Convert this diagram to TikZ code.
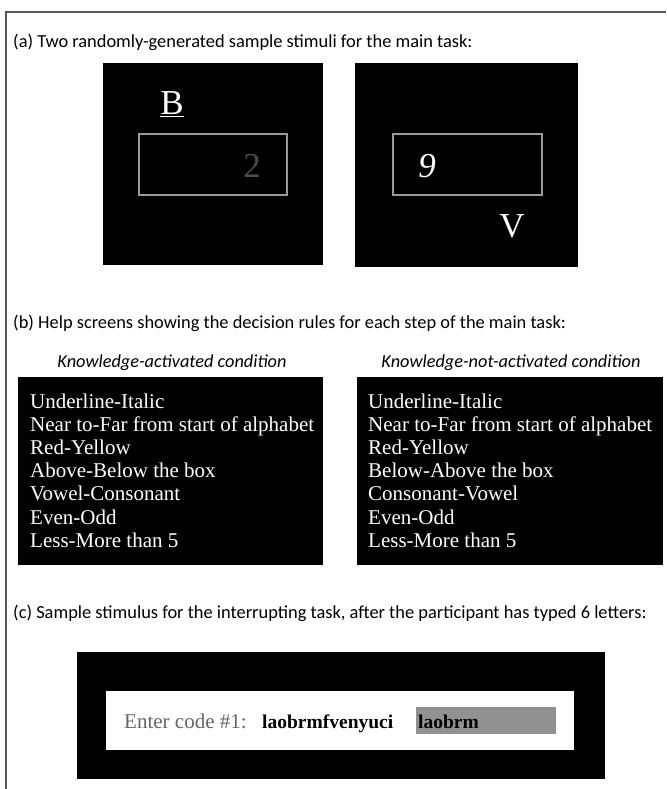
\documentclass[tikz,border=0pt]{standalone}
\usepackage{fontspec}
\setmainfont{Liberation Serif}
\newfontfamily\calibri{Carlito}
\usetikzlibrary{positioning}
\definecolor{framegray}{gray}{0.35}
\definecolor{boxgray}{gray}{0.6}
\definecolor{fieldgray}{gray}{0.57}
\tikzset{
  heading/.style={anchor=base west, inner sep=0pt, font=\calibri\fontsize{18.4}{21}\selectfont},
  condition/.style={anchor=base, inner sep=0pt, font=\calibri\itshape\fontsize{18.3}{21}\selectfont},
  ruletext/.style={anchor=base west, inner sep=0pt, text=white, font=\fontsize{21}{23}\selectfont},
  stimulus/.style={anchor=base, inner sep=0pt, font=\fontsize{35}{40}\selectfont},
  codetext/.style={anchor=base west, inner sep=0pt, font=\fontsize{20}{22}\selectfont}
}
\begin{document}
\begin{tikzpicture}[x=1pt,y=-1pt]
				\useasboundingbox (0,0) rectangle (666,789);
				\fill[white] (0,0) rectangle (666,789);
				
				% frame
				\draw[framegray, line width=1.6pt] (6,789) -- (6,12) -- (666,12);
				
				% (a) main task stimuli
				\node[heading] (head-a) at (13,48) {(a) Two randomly-generated sample stimuli for the main task:};
				
				\fill[black] (103,63) rectangle (323,265);
				\draw[boxgray, line width=1.5pt] (139,134) rectangle (287,195);
				\node[stimulus, text=white] (letter-b) at (172,115) {\underline{B}};
				\node[stimulus, text=black!70] (digit-two) at (252,177) {2};
				
				\fill[black] (355,63) rectangle (578,267);
				\draw[boxgray, line width=1.5pt] (393,134) rectangle (542,195);
				\node[stimulus, text=white] (digit-nine) at (427,177) {\itshape 9};
				\node[stimulus, text=white] (letter-v) at (512,237) {V};
				
				% (b) help screens
				\node[heading] (head-b) at (13,328) {(b) Help screens showing the decision rules for each step of the main task:};
				
				\node[condition] (cond-on) at (172,367) {Knowledge-activated condition};
				\node[condition] (cond-off) at (511,367) {Knowledge-not-activated condition};
				
				\fill[black] (18,377) rectangle (323,565);
				\fill[black] (357,377) rectangle (663,565);
				\foreach \txt [count=\i] in {Underline-Italic, Near to-Far from start of alphabet, Red-Yellow, Above-Below the box, Vowel-Consonant, Even-Odd, Less-More than 5}
					\node[ruletext] (rule-on-\i) at (30,{408+23.2*(\i-1)}) {\txt};
				\foreach \txt [count=\i] in {Underline-Italic, Near to-Far from start of alphabet, Red-Yellow, Below-Above the box, Consonant-Vowel, Even-Odd, Less-More than 5}
					\node[ruletext] (rule-off-\i) at (368,{408+23.2*(\i-1)}) {\txt};
				
				% (c) interrupting task
				\node[heading] (head-c) at (13,618) {(c) Sample stimulus for the interrupting task, after the participant has typed 6 letters:};
				
				\fill[black] (77,652) rectangle (605,779);
				\fill[white] (106,691) rectangle (574,750);
				\fill[fieldgray] (416,707) rectangle (556,734);
				\node[codetext, text=black!60, font=\fontsize{21}{23}\selectfont] (prompt) at (124,728) {Enter code \#1:};
				\node[codetext, font=\bfseries\fontsize{19.5}{22}\selectfont] (code) at (262,728) {laobrmfvenyuci};
				\node[codetext, font=\bfseries\fontsize{19.5}{22}\selectfont] (typed) at (418,728) {laobrm};
			\end{tikzpicture}
\end{document}
